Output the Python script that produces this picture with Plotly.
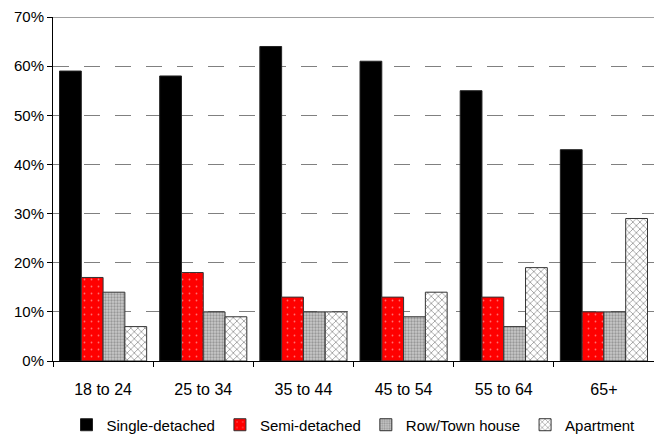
import plotly.graph_objects as go

# Share of households by dwelling type, per age group of the maintainer
age_groups = ["18 to 24", "25 to 34", "35 to 44", "45 to 54", "55 to 64", "65+"]
single_detached = [59, 58, 64, 61, 55, 43]
semi_detached = [17, 18, 13, 13, 13, 10]
row_town_house = [14, 10, 10, 9, 7, 10]
apartment = [7, 9, 10, 14, 19, 29]
y_ticks = [0, 10, 20, 30, 40, 50, 60, 70]

series = [
    ("Single-detached", single_detached,
     dict(color="black", line=dict(color="#222", width=1))),
    ("Semi-detached", semi_detached,
     dict(color="#ff0000", line=dict(color="#333", width=1),
          pattern=dict(shape=".", fgcolor="#ffdede", bgcolor="#ff0000",
                       size=7, solidity=0.05))),
    ("Row/Town house", row_town_house,
     dict(color="#a8a8a8", line=dict(color="#333", width=1),
          pattern=dict(shape=".", fgcolor="#666666", bgcolor="#c8c8c8",
                       size=3, solidity=0.45))),
    ("Apartment", apartment,
     dict(color="white", line=dict(color="#333", width=1),
          pattern=dict(shape="x", fgcolor="#222222", bgcolor="white",
                       size=5, solidity=0.28))),
]

fig = go.Figure()
for name, vals, marker in series:
    fig.add_trace(go.Bar(x=age_groups, y=vals, name=name, marker=marker))

fig.update_layout(
    width=654, height=435,
    margin=dict(l=53, r=0, t=17, b=74, autoexpand=False),
    paper_bgcolor="white", plot_bgcolor="white",
    barmode="group", bargap=0.13, bargroupgap=0,
    font=dict(family="Liberation Sans, Arial, sans-serif", size=15, color="black"),
    showlegend=True,
    legend=dict(orientation="h", x=0.5, xanchor="center",
                yref="paper", y=-0.186, yanchor="middle",
                font=dict(size=15), itemwidth=30, tracegroupgap=0,
                bgcolor="rgba(0,0,0,0)"),
    xaxis=dict(
        type="category", showline=True, linecolor="black", linewidth=1,
        ticks="outside", tickson="boundaries", ticklen=5, tickcolor="black",
        showgrid=False, tickfont=dict(size=16), ticklabelstandoff=14,
        automargin=False,
    ),
    yaxis=dict(
        range=[0, 70], tickvals=y_ticks,
        ticktext=[f"{v}%" for v in y_ticks],
        showline=True, linecolor="black", linewidth=1,
        ticks="outside", ticklen=5, tickcolor="black",
        showgrid=True, gridcolor="#808080", gridwidth=1,
        griddash="16px,15px", zeroline=False, tickfont=dict(size=15),
        automargin=False,
    ),
)

# solid top rule at the upper end of the value axis
fig.add_shape(type="line", xref="paper", yref="y", x0=0, x1=1,
              y0=y_ticks[-1], y1=y_ticks[-1],
              line=dict(color="#808080", width=1.5))

fig.write_html("out.html")
